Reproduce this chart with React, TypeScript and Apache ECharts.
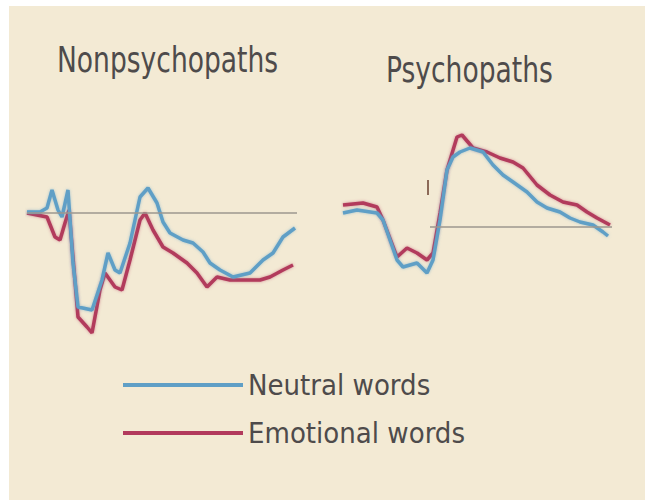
import React, { useEffect, useRef } from "react";
import * as echarts from "echarts";

// time in ms, amplitude in µV
const leftNeutral: [number, number][] = [
  [0, 0.1], [39, 0.1], [60, 0.5], [75, 2.3], [93, 0.3], [105, -0.4], [123, 2.3],
  [138, -5.0], [153, -9.4], [195, -9.7], [225, -6.7], [243, -4.0], [264, -5.7],
  [279, -6.0], [309, -3.0], [339, 1.6], [363, 2.5], [390, 1.0], [408, -0.9],
  [429, -2.0], [468, -2.7], [498, -3.0], [528, -3.9], [549, -5.0], [579, -5.7],
  [618, -6.4], [669, -6.0], [708, -4.7], [738, -4.0], [768, -2.4], [804, -1.5],
];
const leftEmotional: [number, number][] = [
  [0, 0], [60, -0.4], [84, -2.4], [99, -2.7], [114, -1.0], [126, 0.3],
  [153, -10.4], [180, -11.4], [195, -12.0], [219, -7.7], [234, -6.0], [264, -7.4],
  [285, -7.7], [309, -4.7], [339, -0.7], [354, 0], [378, -1.7], [408, -3.4],
  [438, -4.0], [480, -5.0], [510, -6.0], [540, -7.4], [570, -6.4], [609, -6.7],
  [660, -6.7], [699, -6.7], [729, -6.4], [768, -5.7], [798, -5.2],
];
const rightNeutral: [number, number][] = [
  [0, 1.4], [42, 1.7], [102, 1.4], [120, 0.7], [162, -3.3], [180, -4.0],
  [222, -3.6], [252, -4.6], [270, -3.3], [291, 0.7], [312, 5.7], [330, 7.0],
  [351, 7.5], [381, 7.9], [420, 7.5], [450, 6.2], [480, 5.2], [510, 4.5],
  [552, 3.5], [582, 2.5], [612, 1.9], [651, 1.5], [681, 0.9], [711, 0.5],
  [750, 0.2], [780, -0.5], [795, -0.9],
];
const rightEmotional: [number, number][] = [
  [0, 2.2], [60, 2.4], [102, 2.0], [120, 0.7], [162, -3.0], [192, -2.1],
  [222, -2.6], [252, -3.3], [270, -2.6], [291, 1.4], [312, 5.7], [342, 9.0],
  [357, 9.2], [390, 7.9], [432, 7.5], [471, 6.9], [510, 6.5], [540, 5.9],
  [582, 4.2], [621, 3.2], [660, 2.5], [702, 2.2], [732, 1.5], [762, 0.9],
  [801, 0.2],
];
const panelTitles = ["Nonpsychopaths", "Psychopaths"];
const seriesNames = ["Neutral words", "Emotional words"];

const BLUE = "#5f9fc6";
const RED = "#b23a5c";
const FONT = '"DejaVu Sans Condensed", "DejaVu Sans", sans-serif';
const TEXT = "#4e4b4b";

export default function App() {
  const ref = useRef<HTMLDivElement>(null);
  useEffect(() => {
    if (!ref.current) return;
    const chart = echarts.init(ref.current, null, { renderer: "svg" });
    const lineSeries = (name: string, data: [number, number][], color: string, idx: number, extra: any = {}) => ({
      type: "line",
      name,
      data,
      xAxisIndex: idx,
      yAxisIndex: idx,
      showSymbol: false,
      smooth: false,
      color,
      itemStyle: { color },
      lineStyle: { color, width: 3.5, shadowColor: color + "88", shadowBlur: 3 },
      z: name === seriesNames[0] ? 3 : 2,
      ...extra,
    });
    chart.setOption({
      animation: false,
      backgroundColor: "#ffffff",
      graphic: [
        {
          type: "rect",
          z: -10,
          silent: true,
          shape: { x: 9, y: 6, width: 636, height: 494 },
          style: { fill: "#f3ead4" },
        },
        {
          type: "text",
          x: 57,
          y: 41,
          scaleX: 0.82,
          silent: true,
          style: { text: panelTitles[0], fontFamily: FONT, fontSize: 36, fill: TEXT },
        },
        {
          type: "text",
          x: 386,
          y: 51,
          scaleX: 0.82,
          silent: true,
          style: { text: panelTitles[1], fontFamily: FONT, fontSize: 36, fill: TEXT },
        },
      ],
      legend: {
        data: seriesNames,
        orient: "vertical",
        left: 118,
        top: 360,
        icon: "rect",
        itemWidth: 120,
        itemHeight: 4,
        itemGap: 8,
        itemTextGap: 8,
        textStyle: { fontFamily: FONT, fontSize: 29, color: TEXT, lineHeight: 40 },
      },
      grid: [
        { left: 27, top: 113, width: 270, height: 250 },
        { left: 343, top: 127, width: 270, height: 250 },
      ],
      xAxis: [0, 1].map((i) => ({
        type: "value",
        gridIndex: i,
        min: 0,
        max: 810,
        show: false,
        splitLine: { show: false },
      })),
      yAxis: [0, 1].map((i) => ({
        type: "value",
        gridIndex: i,
        min: -15,
        max: 10,
        show: false,
        splitLine: { show: false },
      })),
      series: [
        lineSeries(seriesNames[1], leftEmotional, RED, 0, {
          markLine: {
            silent: true,
            symbol: "none",
            label: { show: false },
            lineStyle: { color: "#9d978f", width: 1.5, type: "solid" },
            data: [[{ coord: [0, 0] }, { coord: [810, 0] }]],
          },
        }),
        lineSeries(seriesNames[0], leftNeutral, BLUE, 0),
        lineSeries(seriesNames[1], rightEmotional, RED, 1, {
          markLine: {
            silent: true,
            symbol: "none",
            label: { show: false },
            data: [
              [{ coord: [261, 0], lineStyle: { color: "#9d978f", width: 1.5, type: "solid" } }, { coord: [807, 0] }],
              [{ coord: [255, 4.7], lineStyle: { color: "#8c6a58", width: 2, type: "solid" } }, { coord: [255, 3.2] }],
            ],
          },
        }),
        lineSeries(seriesNames[0], rightNeutral, BLUE, 1),
      ],
    });
    return () => chart.dispose();
  }, []);
  return (
    <div
      ref={ref}
      style={{ position: "absolute", left: 0, top: 0, width: 654, height: 500 }}
    />
  );
}
